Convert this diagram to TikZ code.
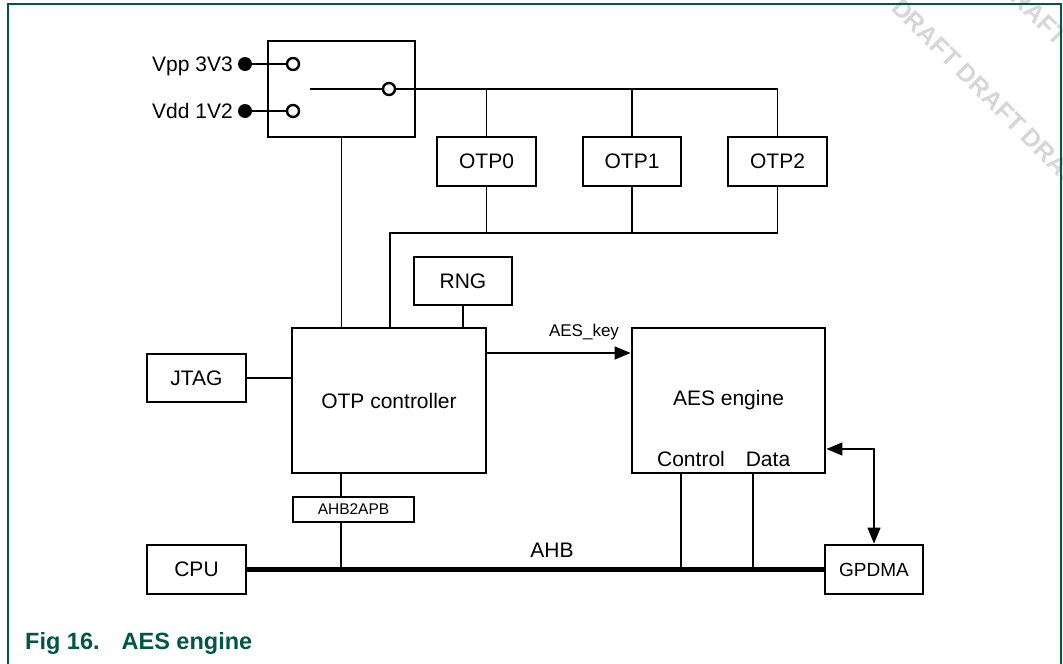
\documentclass[tikz,border=0pt]{standalone}
\usepackage{fontspec}
\setmainfont{Liberation Sans}
\usetikzlibrary{arrows.meta,calc}
\definecolor{nxpgreen}{RGB}{0,87,70}
\definecolor{wmgray}{RGB}{214,214,214}
\begin{document}
\begin{tikzpicture}[x=1pt,y=-1pt,
  box/.style={draw,line width=2.8pt,rectangle,inner sep=0pt,font=\fontsize{21}{25}\selectfont},
  wire/.style={line width=1.3pt},
  lbl/.style={inner sep=0pt,font=\fontsize{21}{25}\selectfont},
  wm/.style={inner sep=0pt,text=wmgray,font=\fontsize{25}{30}\selectfont\bfseries},
  dotc/.style={circle,fill,inner sep=0pt,minimum size=14pt},
  openc/.style={circle,draw,fill=white,line width=2.4pt,inner sep=0pt,minimum size=12pt},
  arrtip/.tip={Triangle[length=16pt,width=13pt]}]
\useasboundingbox (0,0) rectangle (1063,664);

% watermark
\begin{scope}
  \clip (0,0) rectangle (1063,664);
  \node[wm,anchor=base west,rotate=-45] (wm1) at (890,9) {DRAFT DRAFT DRAFT DRAFT};
  \node[wm,anchor=base west,rotate=-45] (wm2) at (997,-13) {DRAFT DRAFT DRAFT};
\end{scope}

% frame
\draw[nxpgreen,line width=2pt] (8,664) -- (8,4) -- (1061,4) -- (1061,664);

% boxes
\node[box,minimum width=147pt,minimum height=96pt] (sw) at (341.5,89) {};
\node[box,minimum width=99pt,minimum height=49pt] (otp0) at (486.5,161.5) {OTP0};
\node[box,minimum width=98pt,minimum height=49pt] (otp1) at (632,161.5) {OTP1};
\node[box,minimum width=99pt,minimum height=49pt] (otp2) at (777.5,161.5) {OTP2};
\node[box,minimum width=98pt,minimum height=48pt] (rng) at (463,281) {RNG};
\node[box,minimum width=194pt,minimum height=145pt] (ctrl) at (389,400.5) {OTP controller};
\node[box,minimum width=193pt,minimum height=145pt] (aes) at (728.5,400.5) {AES engine};
\node[box,minimum width=99pt,minimum height=48pt] (jtag) at (196.5,378) {JTAG};
\node[box,minimum width=121pt,minimum height=25pt,line width=2.4pt,font=\fontsize{15.5}{18}\selectfont] (apb) at (353.5,509.5) {AHB2APB};
\node[box,minimum width=99pt,minimum height=49pt] (cpu) at (196.5,569.5) {CPU};
\node[box,minimum width=98pt,minimum height=49pt,font=\fontsize{19}{22}\selectfont] (gpdma) at (874,569.5) {GPDMA};

% switch
\node[dotc] (vppdot) at (245,64) {};
\node[dotc] (vdddot) at (245,111) {};
\draw[line width=2.2pt] (vppdot) -- (293,64);
\draw[line width=2.2pt] (vdddot) -- (293,111);
\node[openc] (vppc) at (293,64) {};
\node[openc] (vddc) at (293,111) {};
\node[openc] (outc) at (389,89) {};
\coordinate (lev) at (310,89);
\draw[line width=2.2pt] (lev) -- (outc);
\node[lbl,anchor=base east] (vpplbl) at (233,71) {Vpp 3V3};
\node[lbl,anchor=base east] (vddlbl) at (233,118) {Vdd 1V2};

% OTP supply lines
\draw[wire] (outc) -- (outc -| otp2.north) -- (otp2.north);
\draw[wire] (outc -| otp0.north) -- (otp0.north);
\draw[wire] (outc -| otp1.north) -- (otp1.north);

% OTP data lines to controller
\coordinate (j) at (390,233);
\draw[wire] (otp2.south) |- (j) -- (j |- ctrl.north);
\draw[wire] (otp0.south) -- (otp0.south |- j);
\draw[wire] (otp1.south) -- (otp1.south |- j);

% other connections
\draw[wire] (sw.south) -- (sw.south |- ctrl.north);
\draw[wire] (rng.south) -- (rng.south |- ctrl.north);
\draw[wire] (jtag.east) -- (jtag.east -| ctrl.west);

\coordinate (ak) at (0,353);
\draw[wire,-arrtip] (ctrl.east |- ak) -- (aes.west |- ak);
\node[inner sep=0pt,anchor=base,font=\fontsize{17}{20}\selectfont] (aeskey) at (584,336) {AES\_key};

% bus
\draw[line width=5pt] (cpu.east) -- (gpdma.west);
\node[lbl,anchor=base] (ahblbl) at (552,557) {AHB};
\coordinate (bx) at (341,569);
\draw[wire] (bx |- ctrl.south) -- (bx |- apb.north);
\draw[wire] (bx |- apb.south) -- (bx);

\coordinate (cb) at (681,569);
\coordinate (db) at (753,569);
\draw[wire] (cb |- aes.south) -- (cb);
\draw[wire] (db |- aes.south) -- (db);
\node[lbl,anchor=base] (ctl) at (691,466) {Control};
\node[lbl,anchor=base] (dat) at (768,466) {Data};

\coordinate (da) at (0,449);
\draw[wire,arrtip-arrtip] (aes.east |- da) -| (gpdma.north);

% caption
\node[inner sep=0pt,anchor=base west,text=nxpgreen,font=\fontsize{23.5}{28}\selectfont\bfseries] (cap) at (25,649) {Fig 16.\hspace{22pt}AES engine};
\end{tikzpicture}
\end{document}
